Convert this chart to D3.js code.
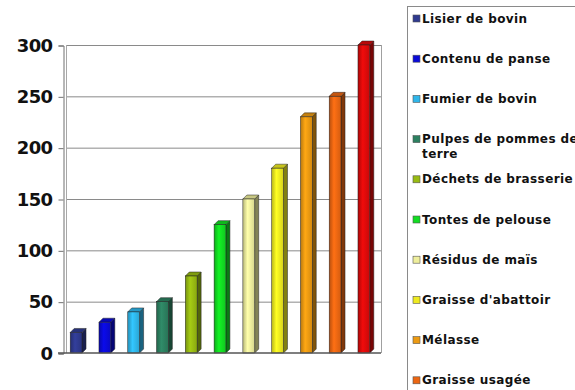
<!DOCTYPE html>
<html>
<head>
<meta charset="utf-8">
<script src="https://cdn.jsdelivr.net/npm/d3@7"></script>
<style>
  html, body { margin: 0; padding: 0; background: #fff; overflow: hidden; }
  svg { display: block; }
</style>
</head>
<body>
<svg id="chart" width="575" height="390"></svg>
<script>
// Biogas yield by substrate
const categories = [
  "Lisier de bovin", "Contenu de panse", "Fumier de bovin",
  "Pulpes de pommes de terre", "Déchets de brasserie", "Tontes de pelouse",
  "Résidus de maïs", "Graisse d'abattoir", "Mélasse", "Graisse usagée",
  "Glycérine"
];
const values = [20, 30, 40, 50, 75, 125, 150, 180, 230, 250, 300];
const colors = [
  "#2f3a8f", "#0a0ad8", "#2fb6ea", "#2c8060", "#98bb12", "#12dd22",
  "#eeee9c", "#eeea20", "#ec9a12", "#ec6612", "#dc0a0a"
];
const yTicks = [0, 50, 100, 150, 200, 250, 300];

const svg = d3.select("#chart");
const plotLeft = 63, plotRight = 381, plotTop = 45, plotBottom = 353;
const depth = 4;
const wallX = plotLeft + 3.5;

const x = d3.scaleBand().domain(categories).range([plotLeft, plotRight])
  .paddingInner(0.45).paddingOuter(0.25);
const y = d3.scaleLinear().domain([0, 300]).range([plotBottom, plotTop]);

// back wall gridlines
svg.append("g").selectAll("line").data(yTicks.filter(d => d > 0)).join("line")
  .attr("x1", wallX).attr("x2", plotRight)
  .attr("y1", d => y(d) + 0.5).attr("y2", d => y(d) + 0.5)
  .attr("stroke", "#8a8a8a").attr("stroke-width", 1);

// wall edges
svg.append("line").attr("x1", plotRight + 0.5).attr("x2", plotRight + 0.5)
  .attr("y1", plotTop).attr("y2", plotBottom).attr("stroke", "#a0a0a0");
svg.append("line").attr("x1", wallX).attr("x2", wallX)
  .attr("y1", plotTop).attr("y2", plotBottom).attr("stroke", "#a8a8a8");

// y axis
const yAxis = d3.axisLeft(y).tickValues(yTicks).tickSize(5).tickPadding(6);
const gy = svg.append("g").attr("transform", `translate(${plotLeft + 0.5},0.5)`).call(yAxis);
gy.select(".domain").attr("stroke", "#707070");
gy.selectAll(".tick line").attr("stroke", "#707070");
gy.selectAll(".tick text")
  .attr("font-family", "'DejaVu Sans', sans-serif")
  .attr("font-weight", "bold").attr("font-size", 18)
  .attr("fill", "#111").attr("letter-spacing", "-0.6");

// gradients giving each bar a rounded front face
const defs = svg.append("defs");
colors.forEach((c, i) => {
  const col = d3.color(c);
  const gr = defs.append("linearGradient").attr("id", "bar" + i)
    .attr("x1", "0").attr("x2", "1").attr("y1", "0").attr("y2", "0");
  gr.append("stop").attr("offset", "0").attr("stop-color", col.darker(0.7));
  gr.append("stop").attr("offset", "0.4").attr("stop-color", col.brighter(0.25));
  gr.append("stop").attr("offset", "1").attr("stop-color", col.darker(0.3));
});

// bars with a 3D look: front, side and top faces
const bw = x.bandwidth() - depth;
const bars = svg.append("g").selectAll("g").data(categories).join("g");
bars.each(function(c, i) {
  const g = d3.select(this);
  const x0 = x(c), yTop = y(values[i]), col = d3.color(colors[i]);
  g.append("polygon")
    .attr("points", [[x0 + bw, yTop], [x0 + bw + depth, yTop - depth],
      [x0 + bw + depth, plotBottom - depth], [x0 + bw, plotBottom]].map(p => p.join(",")).join(" "))
    .attr("fill", col.darker(1.7)).attr("stroke", "#222").attr("stroke-width", 0.5);
  g.append("polygon")
    .attr("points", [[x0, yTop], [x0 + depth, yTop - depth],
      [x0 + bw + depth, yTop - depth], [x0 + bw, yTop]].map(p => p.join(",")).join(" "))
    .attr("fill", col.darker(0.5)).attr("stroke", "#222").attr("stroke-width", 0.5);
  g.append("rect")
    .attr("x", x0).attr("y", yTop).attr("width", bw).attr("height", plotBottom - yTop)
    .attr("fill", `url(#bar${i})`).attr("stroke", "#222").attr("stroke-width", 0.5);
});

// floor line
svg.append("line").attr("x1", plotLeft - 5).attr("x2", plotRight)
  .attr("y1", plotBottom).attr("y2", plotBottom).attr("stroke", "#555").attr("stroke-width", 1.4);

// legend
const legend = svg.append("g");
legend.append("rect").attr("x", 407.5).attr("y", 6.5).attr("width", 200).attr("height", 420)
  .attr("fill", "none").attr("stroke", "#8a8a8a");
const step = 40.2;
categories.forEach((c, i) => {
  const base = 22.5 + i * step;
  legend.append("rect").attr("x", 413).attr("y", base - 7.5).attr("width", 7).attr("height", 7)
    .attr("fill", colors[i]).attr("stroke", "#555").attr("stroke-width", 0.6);
  const t = legend.append("text")
    .attr("font-family", "'DejaVu Sans', sans-serif")
    .attr("font-weight", "bold").attr("font-size", 12).attr("fill", "#111")
    .attr("letter-spacing", "0.4");
  const lines = c === "Pulpes de pommes de terre" ? ["Pulpes de pommes de", "terre"] : [c];
  lines.forEach((ln, k) => {
    t.append("tspan").attr("x", 422).attr("y", base + k * 15).text(ln);
  });
});
</script>
</body>
</html>
